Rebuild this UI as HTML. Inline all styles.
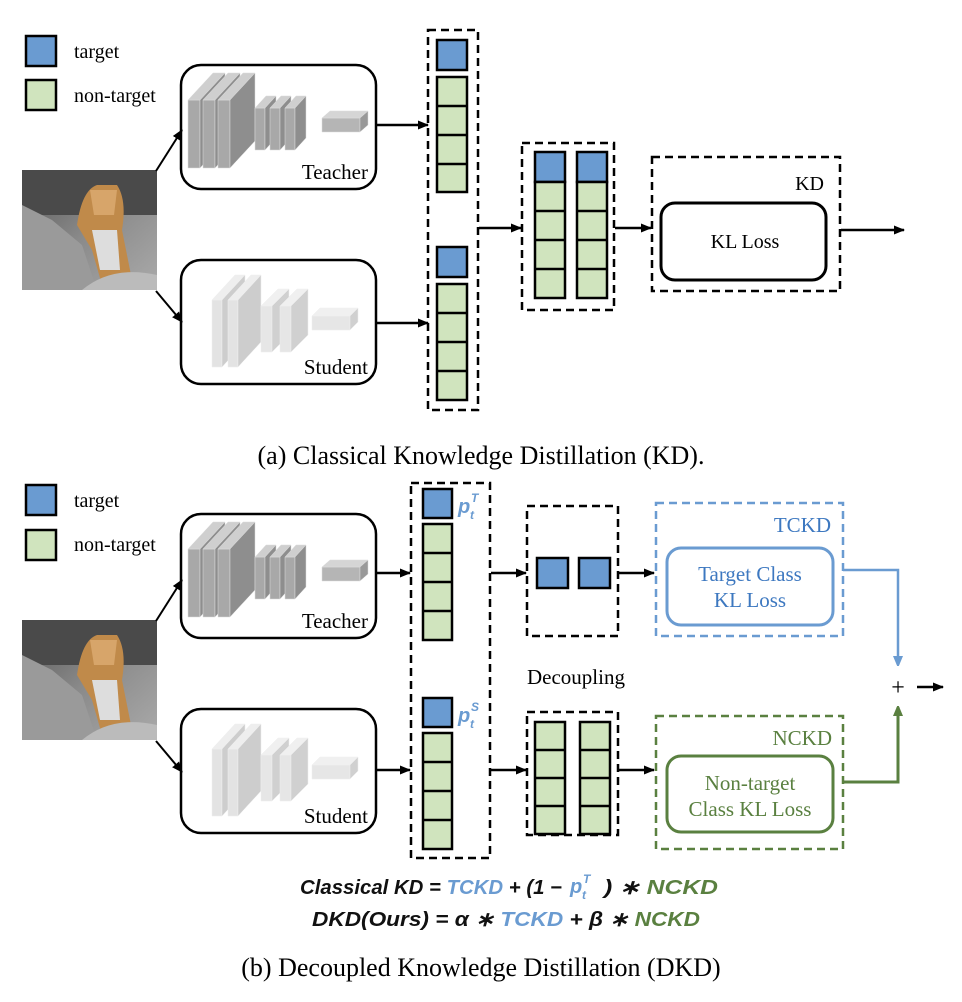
<!DOCTYPE html>
<html><head><meta charset="utf-8"><style>
html,body{margin:0;padding:0;background:#fff}
svg{display:block}
text{font-family:"Liberation Serif",serif}
text.f{font-family:"Liberation Sans",sans-serif;font-weight:bold;font-style:italic}
</style></head><body>
<svg width="962" height="1002" viewBox="0 0 962 1002" xmlns="http://www.w3.org/2000/svg">
<defs>
<marker id="ah" markerWidth="11" markerHeight="10" refX="10" refY="5" orient="auto" markerUnits="userSpaceOnUse"><path d="M0,0.5 L11,5 L0,9.5 z" fill="#000"/></marker>
<marker id="ab" markerWidth="10" markerHeight="12" refX="9" refY="5" orient="auto" markerUnits="userSpaceOnUse"><path d="M0,0 L12,5 L0,10 z" fill="#6a9bd1"/></marker>
<marker id="ag" markerWidth="10" markerHeight="12" refX="9" refY="5" orient="auto" markerUnits="userSpaceOnUse"><path d="M0,0 L12,5 L0,10 z" fill="#5a8040"/></marker>
<linearGradient id="tg" x1="0" y1="0" x2="1" y2="1">
<stop offset="0" stop-color="#555"/><stop offset="0.5" stop-color="#8a8a8a"/><stop offset="1" stop-color="#aaa"/></linearGradient>
<g id="tiger">
<rect x="0" y="0" width="135" height="120" fill="url(#tg)"/>
<rect x="0" y="0" width="135" height="45" fill="#4a4a4a"/>
<path d="M0,35 L30,50 L60,75 L75,120 L0,120z" fill="#9a9a9a"/>
<path d="M55,55 Q60,20 75,15 L95,15 Q105,30 100,60 L110,110 L80,115 L70,80z" fill="#c08a4a"/>
<path d="M68,20 L95,20 L92,45 L72,45z" fill="#d7a56a"/>
<path d="M70,60 L95,60 L98,100 L78,100z" fill="#ddd"/>
<path d="M60,120 Q90,95 135,105 L135,120z" fill="#bbb"/>
</g>
<g id="teach">
<g fill="#a8a8a8" stroke="#ddd" stroke-width="0.5">
<polygon points="188,100 200,100 200,168 188,168"/><polygon points="188,100 213,73 225,73 200,100" fill="#cfcfcf"/><polygon points="200,100 225,73 225,141 200,168" fill="#8e8e8e"/>
<polygon points="203,100 215,100 215,168 203,168"/><polygon points="203,100 228,73 240,73 215,100" fill="#cfcfcf"/><polygon points="215,100 240,73 240,141 215,168" fill="#8e8e8e"/>
<polygon points="218,100 230,100 230,168 218,168"/><polygon points="218,100 243,73 255,73 230,100" fill="#cfcfcf"/><polygon points="230,100 255,73 255,141 230,168" fill="#8e8e8e"/>
<polygon points="255,108 265,108 265,150 255,150"/><polygon points="255,108 266,96 276,96 265,108" fill="#cfcfcf"/><polygon points="265,108 276,96 276,138 265,150" fill="#8e8e8e"/>
<polygon points="270,108 280,108 280,150 270,150"/><polygon points="270,108 281,96 291,96 280,108" fill="#cfcfcf"/><polygon points="280,108 291,96 291,138 280,150" fill="#8e8e8e"/>
<polygon points="285,108 295,108 295,150 285,150"/><polygon points="285,108 296,96 306,96 295,108" fill="#cfcfcf"/><polygon points="295,108 306,96 306,138 295,150" fill="#8e8e8e"/>
<polygon points="322,118 360,118 360,132 322,132" fill="#b5b5b5"/><polygon points="322,118 330,111 368,111 360,118" fill="#d5d5d5"/><polygon points="360,118 368,111 368,125 360,132" fill="#999"/>
</g></g>
<g id="stud">
<g stroke="#eee" stroke-width="0.5">
<polygon points="212,300 222,300 222,367 212,367" fill="#e3e3e3"/><polygon points="212,300 235,275 245,275 222,300" fill="#eee"/><polygon points="222,300 245,275 245,342 222,367" fill="#cdcdcd"/>
<polygon points="228,300 238,300 238,367 228,367" fill="#e3e3e3"/><polygon points="228,300 251,275 261,275 238,300" fill="#eee"/><polygon points="238,300 261,275 261,342 238,367" fill="#cdcdcd"/>
<polygon points="261,306 272,306 272,352 261,352" fill="#e6e6e6"/><polygon points="261,306 278,289 289,289 272,306" fill="#f0f0f0"/><polygon points="272,306 289,289 289,335 272,352" fill="#d0d0d0"/>
<polygon points="280,306 291,306 291,352 280,352" fill="#e6e6e6"/><polygon points="280,306 297,289 308,289 291,306" fill="#f0f0f0"/><polygon points="291,306 308,289 308,335 291,352" fill="#d0d0d0"/>
<polygon points="312,316 350,316 350,330 312,330" fill="#e6e6e6"/><polygon points="312,316 320,308 358,308 350,316" fill="#f0f0f0"/><polygon points="350,316 358,308 358,322 350,330" fill="#d0d0d0"/>
</g></g>
</defs>

<g stroke="#000" stroke-width="2.5">
<rect x="26" y="36" width="30" height="30" fill="#6a9bd1"/>
<rect x="26" y="80" width="30" height="30" fill="#d0e4be"/>
<rect x="26" y="485" width="30" height="30" fill="#6a9bd1"/>
<rect x="26" y="530" width="30" height="30" fill="#d0e4be"/>
</g>
<g font-size="20" fill="#000">
<text x="74" y="58">target</text><text x="74" y="102">non-target</text>
<text x="74" y="507">target</text><text x="74" y="551">non-target</text>
</g>

<use href="#tiger" x="22" y="170"/>
<use href="#tiger" x="22" y="620"/>
<g fill="none" stroke="#000" stroke-width="2.5">
<rect x="181" y="65" width="195" height="124" rx="20"/>
<rect x="181" y="260" width="195" height="124" rx="20"/>
<rect x="181" y="514" width="195" height="124" rx="20"/>
<rect x="181" y="709" width="195" height="124" rx="20"/>
</g>
<use href="#teach"/>
<use href="#stud"/>
<use href="#teach" y="449"/>
<use href="#stud" y="449"/>
<g font-size="21"><text x="368" y="179" text-anchor="end">Teacher</text><text x="368" y="374" text-anchor="end">Student</text>
<text x="368" y="628" text-anchor="end">Teacher</text><text x="368" y="823" text-anchor="end">Student</text></g>

<g stroke="#000" stroke-width="2" fill="none" marker-end="url(#ah)">
<line x1="156" y1="171" x2="182" y2="130"/>
<line x1="156" y1="291" x2="182" y2="322"/>
<line x1="156" y1="621" x2="182" y2="580"/>
<line x1="156" y1="741" x2="182" y2="772"/>
<line x1="377" y1="125" x2="428" y2="125" stroke-width="2.5"/>
<line x1="377" y1="323" x2="428" y2="323" stroke-width="2.5"/>
<line x1="479" y1="228" x2="521" y2="228" stroke-width="2.5"/>
<line x1="615" y1="228" x2="651" y2="228" stroke-width="2.5"/>
<line x1="841" y1="230" x2="904" y2="230" stroke-width="2.5"/>
<line x1="377" y1="573" x2="410" y2="573" stroke-width="2.5"/>
<line x1="377" y1="770" x2="410" y2="770" stroke-width="2.5"/>
<line x1="491" y1="573" x2="526" y2="573" stroke-width="2.5"/>
<line x1="619" y1="573" x2="654" y2="573" stroke-width="2.5"/>
<line x1="491" y1="770" x2="526" y2="770" stroke-width="2.5"/>
<line x1="619" y1="770" x2="654" y2="770" stroke-width="2.5"/>
<line x1="917" y1="687" x2="943" y2="687" stroke-width="2.5"/>
</g>

<g fill="none" stroke="#000" stroke-width="2.5" stroke-dasharray="8,5">
<rect x="428" y="30" width="50" height="380"/>
<rect x="522" y="143" width="92" height="167"/>
<rect x="652" y="157" width="188" height="134"/>
<rect x="411" y="483" width="79" height="375"/>
<rect x="527" y="506" width="91" height="130"/>
<rect x="527" y="712" width="91" height="123"/>
</g>
<rect x="656" y="503" width="187" height="133" fill="none" stroke="#6a9bd1" stroke-width="2.5" stroke-dasharray="8,5"/>
<rect x="656" y="716" width="187" height="133" fill="none" stroke="#5a8040" stroke-width="2.5" stroke-dasharray="8,5"/>

<g stroke="#000" stroke-width="2.5">
<rect x="437" y="40" width="30" height="30" fill="#6a9bd1"/>
<rect x="437" y="77" width="30" height="115" fill="#d0e4be"/>
<rect x="437" y="247" width="30" height="30" fill="#6a9bd1"/>
<rect x="437" y="284" width="30" height="116" fill="#d0e4be"/>
<rect x="535" y="152" width="30" height="30" fill="#6a9bd1"/>
<rect x="535" y="182" width="30" height="116" fill="#d0e4be"/>
<rect x="577" y="152" width="30" height="30" fill="#6a9bd1"/>
<rect x="577" y="182" width="30" height="116" fill="#d0e4be"/>
<rect x="423" y="489" width="29" height="29" fill="#6a9bd1"/>
<rect x="423" y="524" width="29" height="116" fill="#d0e4be"/>
<rect x="423" y="698" width="29" height="29" fill="#6a9bd1"/>
<rect x="423" y="733" width="29" height="116" fill="#d0e4be"/>
<rect x="537" y="558" width="31" height="30" fill="#6a9bd1"/>
<rect x="579" y="558" width="31" height="30" fill="#6a9bd1"/>
<rect x="535" y="722" width="30" height="112" fill="#d0e4be"/>
<rect x="580" y="722" width="30" height="112" fill="#d0e4be"/>
<path d="M437,106H467M437,135H467M437,164H467M437,313H467M437,342H467M437,371H467M535,211H565M535,240H565M535,269H565M577,211H607M577,240H607M577,269H607M423,553H452M423,582H452M423,611H452M423,762H452M423,791H452M423,820H452M535,750H565M535,778H565M535,806H565M580,750H610M580,778H610M580,806H610" fill="none"/>
<rect x="661" y="203" width="165" height="77" rx="14" fill="none" stroke-width="3"/>
</g>
<text x="745" y="248" font-size="20" text-anchor="middle">KL Loss</text>
<text x="824" y="190" font-size="20" text-anchor="end">KD</text>
<text x="481" y="464" font-size="26" text-anchor="middle">(a) Classical Knowledge Distillation (KD).</text>

<text x="458" y="513" font-size="20" fill="#6a9bd1" class="f">p</text><text x="471" y="502" font-size="12" fill="#6a9bd1" class="f">T</text><text x="470" y="519" font-size="12" fill="#6a9bd1" class="f">t</text>
<text x="458" y="722" font-size="20" fill="#6a9bd1" class="f">p</text><text x="471" y="711" font-size="12" fill="#6a9bd1" class="f">S</text><text x="470" y="728" font-size="12" fill="#6a9bd1" class="f">t</text>

<rect x="667" y="548" width="166" height="77" rx="14" fill="none" stroke="#6a9bd1" stroke-width="3"/>
<rect x="667" y="756" width="166" height="76" rx="14" fill="none" stroke="#5a8040" stroke-width="3"/>
<g font-size="21" text-anchor="middle">
<text x="750" y="581" fill="#3d78c0">Target Class</text><text x="750" y="607" fill="#3d78c0">KL Loss</text>
<text x="750" y="790" fill="#5a8040">Non-target</text><text x="750" y="816" fill="#5a8040">Class KL Loss</text>
<text x="831" y="532" text-anchor="end" fill="#3d78c0">TCKD</text>
<text x="832" y="745" text-anchor="end" fill="#5a8040">NCKD</text>
<text x="576" y="684">Decoupling</text>
</g>
<path d="M843,570H898V665" fill="none" stroke="#6a9bd1" stroke-width="2.5" marker-end="url(#ab)"/>
<path d="M843,782H898V707" fill="none" stroke="#5a8040" stroke-width="3" marker-end="url(#ag)"/>
<text x="898" y="695" font-size="24" text-anchor="middle" font-family="Liberation Sans,sans-serif">+</text>

<g font-size="20">
<text class="f" x="300" y="894" textLength="262" lengthAdjust="spacingAndGlyphs"><tspan fill="#111">Classical KD = </tspan><tspan fill="#6a9bd1">TCKD</tspan><tspan fill="#111"> + (1 −</tspan></text>
<text class="f" x="570" y="893" fill="#6a9bd1">p</text><text class="f" x="583" y="883" font-size="12" fill="#6a9bd1">T</text><text class="f" x="582" y="899" font-size="12" fill="#6a9bd1">t</text>
<text class="f" x="604" y="894" textLength="114" lengthAdjust="spacingAndGlyphs"><tspan fill="#111">) ∗ </tspan><tspan fill="#5a8040">NCKD</tspan></text>
<text class="f" x="312" y="926" textLength="388" lengthAdjust="spacingAndGlyphs"><tspan fill="#111">DKD(Ours)  = α ∗ </tspan><tspan fill="#6a9bd1">TCKD</tspan><tspan fill="#111"> +  β ∗ </tspan><tspan fill="#5a8040">NCKD</tspan></text>
</g>
<text x="481" y="976" font-size="26" text-anchor="middle">(b) Decoupled Knowledge Distillation (DKD)</text>
</svg>
</body></html>
